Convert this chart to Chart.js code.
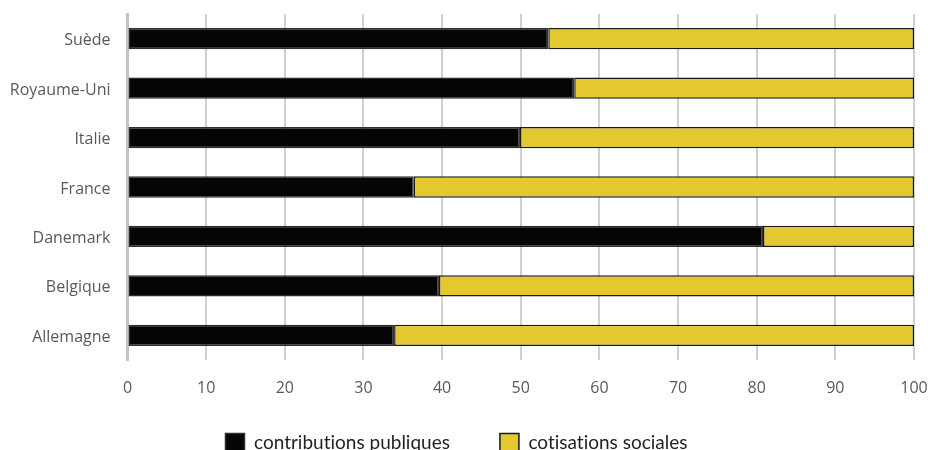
<!DOCTYPE html>
<html lang="fr">
<head>
<meta charset="utf-8">
<title>Financement de la protection sociale</title>
<script src="https://cdn.jsdelivr.net/npm/chart.js@4/dist/chart.umd.min.js"></script>
<style>
  html, body { margin: 0; padding: 0; background: #ffffff; overflow: hidden; }
  #wrap { width: 928px; height: 487px; }
</style>
</head>
<body>
<div id="wrap"><canvas id="c" width="928" height="487"></canvas></div>
<script>
// Pays, du haut vers le bas
const categories = ['Suède', 'Royaume-Uni', 'Italie', 'France', 'Danemark', 'Belgique', 'Allemagne'];
// Part des contributions publiques (%)
const contributionsPubliques = [53.5, 56.8, 49.9, 36.4, 80.8, 39.6, 33.9];
// Part des cotisations sociales (%)
const cotisationsSociales = [46.5, 43.2, 50.1, 63.6, 19.2, 60.4, 66.1];
// Graduations de l'axe horizontal
const xTicks = [0, 10, 20, 30, 40, 50, 60, 70, 80, 90, 100];
const seriesLabels = ['contributions publiques', 'cotisations sociales'];

const tickFont = { family: "'Open Sans', sans-serif", size: 16 };

// Remonte la légende juste sous les graduations de l'axe horizontal,
// et dessine les textes sans ligatures
const legendUnderAxis = {
  id: 'legendUnderAxis',
  afterLayout(chart) {
    const lg = chart.legend;
    const dy = lg.top - (chart.chartArea.bottom + 23);
    lg.top -= dy;
    lg.bottom -= dy;
  },
  beforeDraw(chart) {
    chart.ctx.textRendering = 'optimizeSpeed';
  }
};

new Chart(document.getElementById('c'), {
  type: 'bar',
  data: {
    labels: categories,
    datasets: [
      {
        label: seriesLabels[0],
        data: contributionsPubliques,
        backgroundColor: '#050505',
        borderColor: '#2e2e2e',
        borderWidth: 1.5,
        borderSkipped: false,
        barPercentage: 0.43,
        categoryPercentage: 1
      },
      {
        label: seriesLabels[1],
        data: cotisationsSociales,
        backgroundColor: '#e3c92f',
        borderColor: '#1a1a1a',
        borderWidth: 1.5,
        borderSkipped: false,
        barPercentage: 0.43,
        categoryPercentage: 1
      }
    ]
  },
  plugins: [legendUnderAxis],
  options: {
    indexAxis: 'y',
    responsive: false,
    animation: false,
    layout: { padding: { left: 0, right: 14, top: 14, bottom: 9 } },
    scales: {
      x: {
        stacked: true,
        min: xTicks[0],
        max: xTicks[xTicks.length - 1],
        afterBuildTicks: (scale) => { scale.ticks = xTicks.map(v => ({ value: v })); },
        afterFit: (scale) => { scale.height = 39; scale.paddingLeft = 0; scale.paddingRight = 0; },
        grid: { color: '#d0d0d0', lineWidth: 2, drawTicks: false },
        border: { display: false },
        ticks: { color: '#595959', font: tickFont, padding: 19, maxRotation: 0 }
      },
      y: {
        stacked: true,
        afterFit: (scale) => { scale.width = 127.5; scale.paddingTop = 0; scale.paddingBottom = 0; },
        grid: { display: false, drawTicks: false },
        border: { display: true, color: '#c4c4c4', width: 3 },
        ticks: { color: '#595959', font: tickFont, padding: 17, labelOffset: 2 }
      }
    },
    plugins: {
      legend: {
        position: 'bottom',
        labels: {
          boxWidth: 19,
          boxHeight: 18,
          padding: 50,
          color: '#231f20',
          font: { family: "Lato, sans-serif", size: 19 }
        }
      },
      tooltip: { enabled: false }
    }
  }
});
</script>
</body>
</html>
